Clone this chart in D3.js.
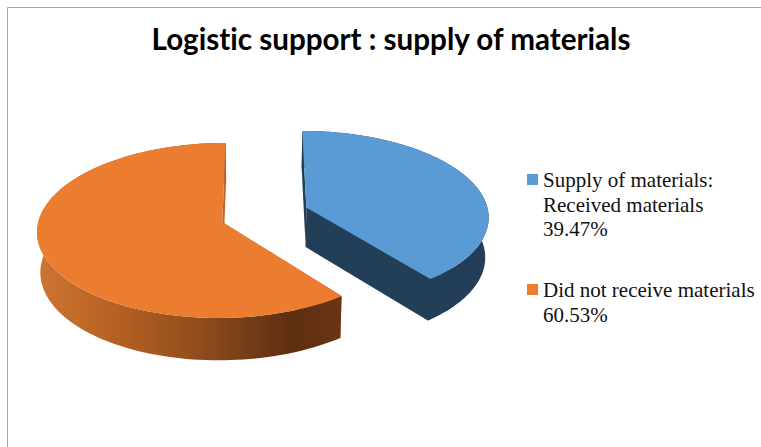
<!DOCTYPE html>
<html>
<head>
<meta charset="utf-8">
<script src="https://cdn.jsdelivr.net/npm/d3@7"></script>
<style>
html,body{margin:0;padding:0;background:#fff}
svg{display:block}
</style>
</head>
<body>
<svg id="chart" width="761" height="447"></svg>
<script>
const chartTitle = "Logistic support : supply of materials";
const categories = ["Supply of materials: Received materials", "Did not receive materials"];
const shares = [39.47, 60.53];
const legendLines = [["Supply of materials:", "Received materials", "39.47%"], ["Did not receive materials", "60.53%"]];
const topColors = ["#5B9BD5", "#EB7C30"];
const legendColors = ["#5B9BD5", "#ED7D31"];
const wallColors = ["#223F57", "#BC6728"];

const svg = d3.select("#chart");
const W = 761, H = 447;

// Chart frame: only the top and left rules fall inside the window
svg.append("path")
  .attr("d", `M7.5,${H}V7.5H${W}`)
  .attr("fill", "none").attr("stroke", "#a6a6a6").attr("stroke-width", 1);

// Title
svg.append("text")
  .attr("x", 391).attr("y", 50)
  .attr("text-anchor", "middle")
  .attr("font-family", "Lato, sans-serif")
  .attr("font-weight", 700)
  .attr("font-size", 29.6)
  .style("font-variant-ligatures", "none")
  .attr("fill", "#000")
  .text(chartTitle);

// Perspective disc: unit-circle coordinates pass through a projective map
const vanishX = 260, baseY = 222, radiusX = 184, radiusY = 86.7, perspective = 0.097;
const sx = d3.scaleLinear().domain([0, 1]).range([vanishX, vanishX + radiusX]);
const sy = d3.scaleLinear().domain([0, 1]).range([baseY, baseY + radiusY]);
const floorScale = 0.985;

function project(u, v, floor) {
  const w = 1 - perspective * v;
  const x = sx(u / w);
  const y = sy(v / w);
  if (!floor) return [x, y];
  return [vanishX + (x - vanishX) * floorScale, y + 40 + 2.3 * v];
}

// Each slice is pulled apart from the shared centre by its own offset
const sliceOffsets = [[0.256, -0.17], [-0.205, 0]];
const pie = d3.pie().sort(null).value(d => d);
const slices = pie(shares);
const line = d3.line();

function rim(d, i, floor) {
  const [ou, ov] = sliceOffsets[i];
  return d3.range(0, 121).map(k => {
    const a = d.startAngle + (d.endAngle - d.startAngle) * k / 120;
    return project(ou + Math.sin(a), ov - Math.cos(a), floor);
  });
}
function hub(i, floor) {
  return project(sliceOffsets[i][0], sliceOffsets[i][1], floor);
}

// Shaded outer wall of the large slice
const defs = svg.append("defs");
const shade = defs.append("linearGradient")
  .attr("id", "wallShade")
  .attr("gradientUnits", "userSpaceOnUse")
  .attr("x1", 40).attr("x2", 340).attr("y1", 0).attr("y2", 0);
[[0, "#CC7430"], [0.27, "#B46022"], [0.55, "#8D4B1C"], [0.83, "#5E2F10"], [1, "#683414"]]
  .forEach(([o, c]) => shade.append("stop").attr("offset", o).attr("stop-color", c));

slices.forEach((d, i) => {
  const top = rim(d, i, false), floor = rim(d, i, true);
  const g = svg.append("g").attr("class", "slice");
  const hubTop = hub(i, false), hubFloor = hub(i, true);
  const last = top.length - 1;
  const radialWall = e => g.append("path")
    .attr("d", line([hubTop, top[e], floor[e], hubFloor]) + "Z")
    .attr("fill", wallColors[i]);
  // Leading radial wall, outer wall, closing radial wall
  radialWall(0);
  g.append("path")
    .attr("d", line(top.concat(floor.slice().reverse())) + "Z")
    .attr("fill", i === 1 ? "url(#wallShade)" : wallColors[i]);
  if (i === 0) {
    // Closing wall laps over the outer wall so their shared edge leaves no seam
    g.append("path")
      .attr("d", line([hubTop, top[last - 8], floor[last - 8], floor[last], hubFloor]) + "Z")
      .attr("fill", wallColors[i]);
  } else {
    radialWall(last);
  }
  // Upper face
  g.append("path")
    .attr("d", line([hubTop].concat(top)) + "Z")
    .attr("fill", topColors[i]);
});

// Legend
const legendY = d3.scalePoint().domain(categories).range([174, 284]);
const legend = svg.selectAll("g.entry").data(categories).join("g").attr("class", "entry")
  .attr("transform", d => `translate(527,${legendY(d)})`);
legend.append("rect")
  .attr("width", 11).attr("height", 11)
  .attr("fill", (d, i) => legendColors[i]);
legend.each(function (d, i) {
  const t = d3.select(this).append("text")
    .attr("font-family", "'Liberation Serif', serif")
    .attr("font-size", 21)
    .attr("fill", "#111");
  legendLines[i].forEach((s, k) => {
    t.append("tspan").attr("x", 16).attr("y", 13 + k * 24.5).text(s);
  });
});
</script>
</body>
</html>
